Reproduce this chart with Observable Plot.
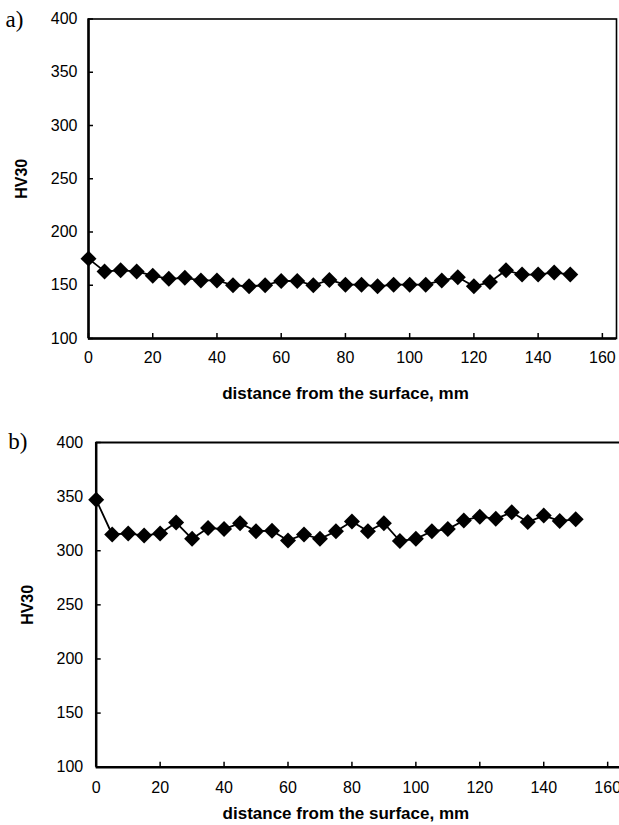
<!DOCTYPE html>
<html>
<head>
<meta charset="utf-8">
<script src="https://cdn.jsdelivr.net/npm/d3@7"></script>
<script src="https://cdn.jsdelivr.net/npm/@observablehq/plot@0.6"></script>
<style>
  html, body { margin: 0; padding: 0; background: #fff; }
  #root svg { display: block; }
</style>
</head>
<body>
<div id="root"></div>
<script>
const distance = [0,5,10,15,20,25,30,35,40,45,50,55,60,65,70,75,80,85,90,95,100,105,110,115,120,125,130,135,140,145,150];
const hvA = [175,163,164,163,159,156,157,154.5,154.5,150,149,150,154,154,150,155,150.5,150.5,149,150.5,150.5,150.5,154.5,157.5,149,153,164,160,160,162,160];
const hvB = [347,315,316,314,316,326,311,321,320,325.5,318,318.5,309.5,315,311,318,327,318,325.5,309,311,318,320,328,331.5,329.5,335.5,326.5,332.5,327.5,329];
const xTicks = [0,20,40,60,80,100,120,140,160];
const yTicks = [100,150,200,250,300,350,400];
const panelLabels = ["a)", "b)"];
const yTitle = "HV30";
const xTitle = "distance from the surface, mm";

function chart(values, o) {
  const data = distance.map((d, i) => ({d, v: values[i]}));
  const borders = o.boxed
    ? [Plot.frame({stroke: "black", strokeWidth: 1.6})]
    : [Plot.ruleY([400], {stroke: "black", strokeWidth: 2})];
  return Plot.plot({
    width: 619,
    height: o.height,
    marginTop: o.marginTop,
    marginBottom: o.height - o.marginTop - o.plotH,
    marginLeft: o.marginLeft,
    marginRight: o.marginRight,
    style: {fontFamily: "'Liberation Sans', Arial, sans-serif", fontSize: "16px", color: "black", background: "white", overflow: "visible"},
    x: {domain: [0, o.xMax]},
    y: {domain: [100, 400]},
    marks: [
      Plot.axisY(yTicks, {tickSize: 0, tickPadding: o.yPad, fontSize: 16, label: null}),
      Plot.axisY(yTicks, {tickSize: 5, dx: 5, tickFormat: () => "", strokeWidth: 1.5, label: null}),
      Plot.axisX(xTicks, {tickSize: 0, tickPadding: o.xPad, fontSize: 16, label: null}),
      Plot.axisX(xTicks, {tickSize: 5, dy: -5, tickFormat: () => "", strokeWidth: 1.5, label: null}),
      ...borders,
      Plot.ruleX([0], {stroke: "black", strokeWidth: 2.5}),
      Plot.ruleY([100], {stroke: "black", strokeWidth: 2.5}),
      Plot.line(data, {x: "d", y: "v", stroke: "black", strokeWidth: 1.8}),
      Plot.dot(data, {x: "d", y: "v", symbol: "diamond2", r: 7.2, fill: "black", stroke: "none"}),
      Plot.text([o.label], {text: d => d, frameAnchor: "top-left", textAnchor: "start", lineAnchor: "middle", dx: o.labelDx, dy: o.labelDy, fontFamily: "'Liberation Serif', 'Times New Roman', serif", fontSize: 23}),
      Plot.text([yTitle], {text: d => d, frameAnchor: "left", textAnchor: "middle", lineAnchor: "middle", rotate: -90, dx: o.yTitleDx, fontWeight: "bold", fontSize: 16}),
      Plot.text([xTitle], {text: d => d, frameAnchor: "bottom", textAnchor: "middle", lineAnchor: "middle", dx: o.xTitleDx, dy: o.xTitleDy, fontWeight: "bold", fontSize: 17})
    ]
  });
}

const root = document.getElementById("root");
root.append(chart(hvA, {
  height: 415, marginTop: 18.5, plotH: 319.5, marginLeft: 88, marginRight: 3, xMax: 164.4,
  boxed: true, yPad: 11, xPad: 13, label: panelLabels[0], labelDx: -83, labelDy: 1,
  yTitleDx: -66.5, xTitleDx: -7, xTitleDy: 55
}));
root.append(chart(hvB, {
  height: 410, marginTop: 27, plotH: 324.7, marginLeft: 95.7, marginRight: 0, xMax: 163.7,
  boxed: false, yPad: 13, xPad: 14, label: panelLabels[1], labelDx: -88, labelDy: -1,
  yTitleDx: -68.2, xTitleDx: -12, xTitleDy: 46
}));
</script>
</body>
</html>
